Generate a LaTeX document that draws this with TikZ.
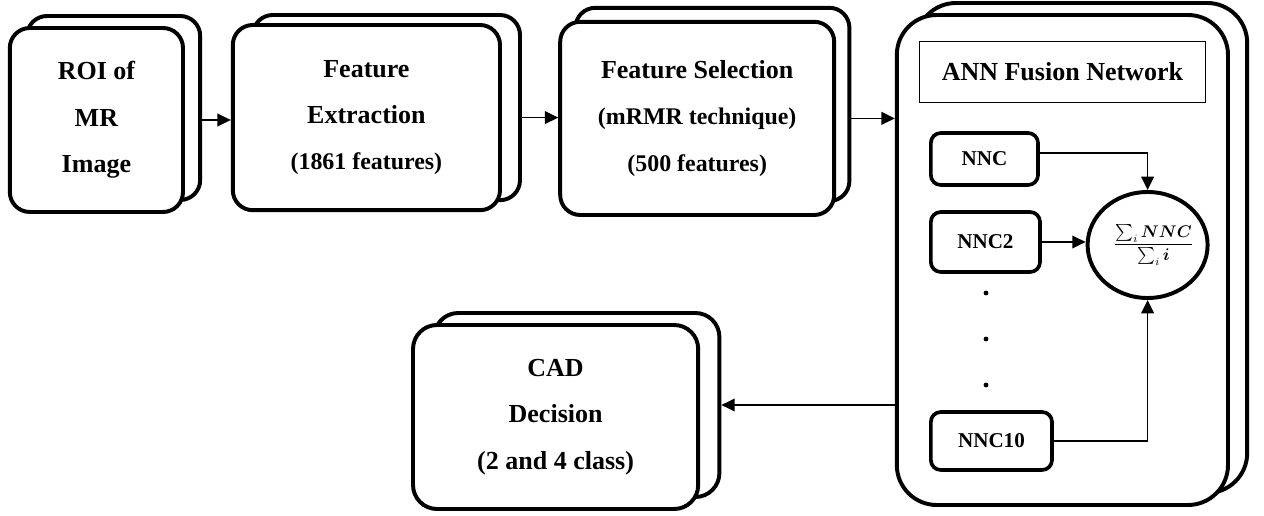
\documentclass[tikz,border=0pt]{standalone}
\usepackage{fontspec}
\setmainfont{Liberation Serif}
\usepackage{amsmath}
\usetikzlibrary{arrows.meta,shapes.geometric}
\newcommand{\featsize}{\fontsize{17}{33}\selectfont}

\begin{document}
\begin{tikzpicture}[
  card/.style={draw,line width=2.8pt,rounded corners=0.5cm,fill=white,align=center,inner sep=0pt,font=\fontsize{18.5}{33}\selectfont\bfseries},
  unit/.style={draw,line width=2.6pt,rounded corners=0.25cm,fill=white,inner sep=0pt,anchor=west,font=\fontsize{15}{18}\selectfont\bfseries},
  flow/.style={-{Triangle[length=9.5pt,width=9pt]},line width=1.1pt}
]
\useasboundingbox (0,0) rectangle (31.6,12.9);
% --- pipeline boxes (back sheet first) ---
\node[card,minimum width=4.33cm,minimum height=4.6cm] (roiback) at (2.84,10.2) {};
\node[card,minimum width=4.33cm,minimum height=4.6cm] (roi) at (2.41,9.9) {ROI of\\MR\\Image};
\node[card,minimum width=6.68cm,minimum height=4.63cm] (extrback) at (9.66,10.21) {};
\node[card,minimum width=6.68cm,minimum height=4.63cm] (extr) at (9.16,9.96) {Feature\\Extraction\\{\featsize(1861 features)}};
\node[card,minimum width=6.85cm,minimum height=4.83cm] (selback) at (17.81,10.29) {};
\node[card,minimum width=6.85cm,minimum height=4.83cm] (sel) at (17.43,9.94) {Feature Selection\\{\featsize(mRMR technique)}\\{\featsize(500 features)}};
\node[card,rounded corners=1cm,minimum width=8.28cm,minimum height=12.25cm] (annback) at (27.04,6.7) {};
\node[card,rounded corners=1cm,minimum width=8.28cm,minimum height=12.25cm] (ann) at (26.56,6.4) {};
\node[card,rounded corners=0.6cm,minimum width=7.13cm,minimum height=4.6cm] (cadback) at (14.42,2.775) {};
\node[card,rounded corners=0.6cm,minimum width=7.13cm,minimum height=4.6cm] (cad) at (13.89,2.475) {CAD\\Decision\\(2 and 4 class)};
% --- fusion network ---
\node[draw,line width=0.6pt,minimum width=7.13cm,minimum height=1.53cm,font=\fontsize{18.5}{22}\selectfont\bfseries] (anntitle) at (26.56,11.11) {ANN Fusion Network};
\node[unit,minimum width=2.68cm,minimum height=1.3cm] (nnc) at (23.225,8.925) {NNC};
\node[unit,minimum width=2.73cm,minimum height=1.5cm] (nnctwo) at (23.225,6.85) {NNC2};
\node[unit,minimum width=3.03cm,minimum height=1.45cm] (nncten) at (23.225,1.875) {NNC10};
\foreach \y in {5.575,4.425,3.275} \fill (24.65,\y) circle (0.06);
\node[draw,ellipse,line width=2.8pt,minimum width=3.0cm,minimum height=2.65cm,inner sep=0pt,font=\fontsize{12}{14}\selectfont] (fuse) at (28.69,6.775) {\makebox[0pt]{\hspace*{0.3cm}$\dfrac{\sum_i \boldsymbol{NNC}}{\sum_i \boldsymbol{i}}$}};
% --- arrows ---
\draw[flow] (roi.east -| roiback.east) -- (roi.east -| extr.west);
\draw[flow] (extr.east -| extrback.east) -- (extr.east -| sel.west);
\draw[flow] (sel.east -| selback.east) -- (sel.east -| ann.west);
\draw[flow] ([yshift=0.15cm]nnc.east) -| (fuse.north);
\draw[flow] (nnctwo.east) -- (nnctwo.east -| fuse.west);
\draw[flow] (nncten.east) -| (fuse.south);
\draw[flow] (cadback.east -| ann.west) -- (cadback.east);
\end{tikzpicture}
\end{document}
